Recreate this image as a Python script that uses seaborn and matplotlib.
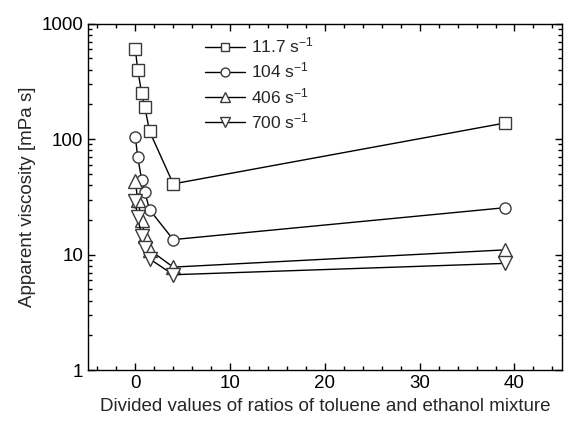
import numpy as np
import pandas as pd
import matplotlib
matplotlib.use('Agg')
import matplotlib.pyplot as plt
from matplotlib.ticker import LogLocator, MultipleLocator, NullFormatter, FixedLocator
import seaborn as sns

# divided values of toluene/ethanol ratios
ratios = [0, 0.25, 0.67, 1, 1.5, 4, 39]

# apparent viscosity [mPa s] at each shear rate
visc_11_7 = [600, 400, 250, 190, 117, 41, 138]
visc_104 = [105, 70, 44.5, 35, 24.5, 13.5, 25.5]
visc_406 = [43, 30, 20, 14.5, 11, 7.8, 11]
visc_700 = [29, 21, 14.5, 11.5, 9.2, 6.7, 8.4]

series_labels = ['11.7 s$^{-1}$', '104 s$^{-1}$', '406 s$^{-1}$', '700 s$^{-1}$']
series_markers = ['s', 'o', '^', 'v']

sns.set_theme(style="ticks")
plt.rcParams['font.family'] = ['Liberation Sans', 'DejaVu Sans']
plt.rcParams['mathtext.fontset'] = 'custom'
plt.rcParams['mathtext.rm'] = 'Liberation Sans'
plt.rcParams['mathtext.it'] = 'Liberation Sans:italic'

df = pd.DataFrame({
    'x': ratios * 4,
    'y': visc_11_7 + visc_104 + visc_406 + visc_700,
    'series': [lab for lab in series_labels for _ in ratios],
})

fig = plt.figure(figsize=(5.71, 4.23), dpi=100)
ax = fig.add_axes([0.154, 0.125, 0.830, 0.819])

for lab, mk in zip(series_labels, series_markers):
    sub = df[df['series'] == lab]
    sns.lineplot(data=sub, x='x', y='y', ax=ax, color='black', lw=1.0,
                 marker=mk, markersize=8 if mk in ('s', 'o') else 9.5,
                 markerfacecolor='white', markeredgecolor='#3a3a3a',
                 markeredgewidth=1.0, label=lab, sort=False)

ax.set_yscale('log')
ax.set_ylim(1, 1000)
ax.set_xlim(-5, 45)
ax.xaxis.set_major_locator(MultipleLocator(10))
ax.xaxis.set_minor_locator(MultipleLocator(2))
ax.yaxis.set_major_locator(FixedLocator([1, 10, 100, 1000]))
ax.yaxis.set_minor_locator(LogLocator(base=10, subs=np.arange(2, 10)))
ax.yaxis.set_minor_formatter(NullFormatter())
ax.set_yticklabels(['1', '10', '100', '1000'])

ax.tick_params(which='both', direction='in', top=True, right=True,
               labelsize=13.5, colors='black', width=1.0)
ax.tick_params(which='major', length=5)
ax.tick_params(which='minor', length=3)
for sp in ax.spines.values():
    sp.set_color('black')
    sp.set_linewidth(1.0)

ax.set_xlabel('Divided values of ratios of toluene and ethanol mixture', fontsize=13.5, labelpad=4)
ax.set_ylabel('Apparent viscosity [mPa s]', fontsize=13.5, labelpad=4)

leg = ax.legend(loc='upper left', bbox_to_anchor=(0.232, 0.985), frameon=False,
                fontsize=12.5, handlelength=2.3, handletextpad=0.35, labelspacing=0.3,
                markerscale=0.8, borderaxespad=0)

fig.savefig('out.png', dpi=100)
